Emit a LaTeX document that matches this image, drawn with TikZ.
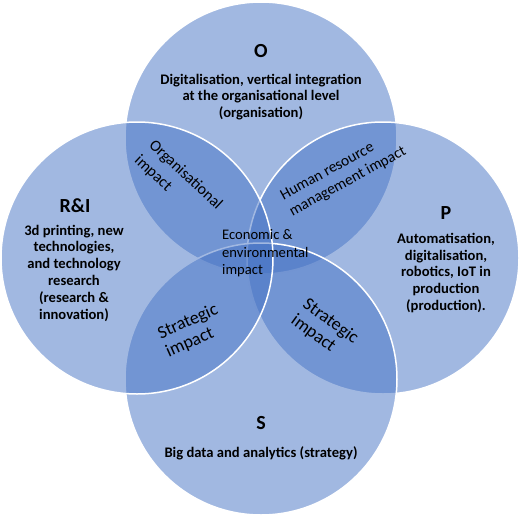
\documentclass[tikz,border=0pt]{standalone}
\usepackage{fontspec}
\setmainfont{Carlito}
\definecolor{venn}{HTML}{4472C4}
\begin{document}
\begin{tikzpicture}[x=1pt,y=-1pt,
  vcirc/.style={circle, minimum size=272pt, inner sep=0pt, draw=white, line width=1.5pt, fill=venn, fill opacity=0.5, draw opacity=1},
  ttl/.style={font=\fontsize{20}{24}\selectfont\bfseries, inner sep=0pt},
  desc/.style={font=\fontsize{14.6}{16.8}\selectfont\bfseries, align=center, inner sep=0pt},
  lbl/.style={align=left, inner sep=0pt}]
\useasboundingbox (0,0) rectangle (520,517);
\node[vcirc] (cO) at (261,138) {};
\node[vcirc] (cP) at (383,258) {};
\node[vcirc] (cS) at (261,379) {};
\node[vcirc] (cR) at (137,258) {};
\node[ttl] (tO) at (261,51) {O};
\node[desc] (dO) at (261,97) {Digitalisation, vertical integration\\at the organisational level\\(organisation)};
\node[ttl] (tR) at (75,206) {R\&I};
\node[desc] (dR) at (74,273) {3d printing, new\\technologies,\\and technology\\research\\(research \&\\innovation)};
\node[ttl] (tP) at (446,213) {P};
\node[desc] (dP) at (446,273) {Automatisation,\\digitalisation,\\robotics, IoT in\\production\\(production).};
\node[ttl] (tS) at (261,423) {S};
\node[desc] (dS) at (261,453) {Big data and analytics (strategy)};
\node[lbl, anchor=west, font=\fontsize{14.6}{17.5}\selectfont] (econ) at (222,253.5) {Economic \&\\environmental\\impact};
\node[lbl, rotate=-43, font=\fontsize{16}{21}\selectfont] (org) at (178.3,182.7) {Organisational\\impact};
\node[lbl, rotate=28.6, font=\fontsize{15.5}{18.6}\selectfont] (hr) at (343.5,173.8) {Human resource\\management impact};
\node[lbl, rotate=24, font=\fontsize{18}{20}\selectfont] (stl) at (192,331) {Strategic\\impact};
\node[lbl, rotate=-36, font=\fontsize{18}{20}\selectfont] (str) at (324.6,329.6) {Strategic\\impact};
\end{tikzpicture}
\end{document}
